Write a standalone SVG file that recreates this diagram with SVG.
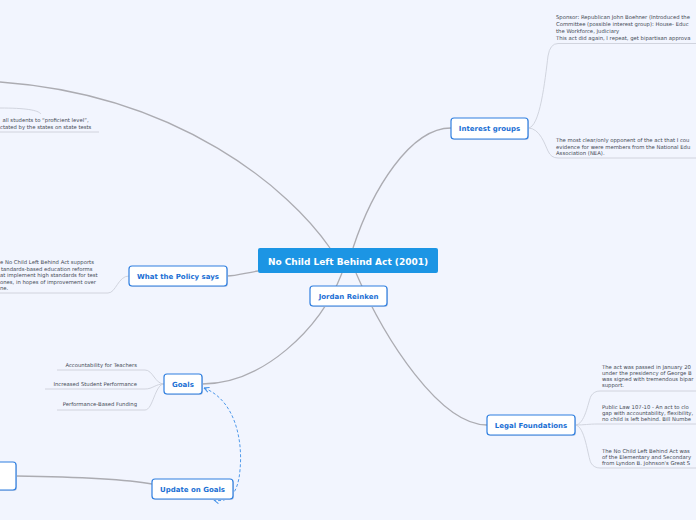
<svg xmlns="http://www.w3.org/2000/svg" width="696" height="520" viewBox="0 0 696 520">
<defs>
<style>
.bg{fill:#f2f5fe}
.main{fill:none;stroke:#acacb2;stroke-width:1.3}
.leaf{fill:none;stroke:#cdd0da;stroke-width:0.9}
.node rect.box{fill:#ffffff;stroke:#2f7fe0;stroke-width:1.2}
.node rect.sh{fill:#c9d3e6}
.lbl{font-family:"DejaVu Sans",Verdana,sans-serif;font-weight:bold;font-size:7px;fill:#1b6fd4;text-anchor:middle}
.txt{font-family:"DejaVu Sans",Verdana,sans-serif;font-size:5.3px;fill:#444a55}
.dash{fill:none;stroke:#3d8ee8;stroke-width:0.9;stroke-dasharray:3 2}
</style>
<marker id="arr" viewBox="0 0 10 10" refX="9" refY="5" markerWidth="7" markerHeight="7" orient="auto-start-reverse">
<path d="M1,1 L9,5 L1,9" fill="none" stroke="#3d8ee8" stroke-width="1.5"/>
</marker>
</defs>
<rect class="bg" x="0" y="0" width="696" height="520"/>

<g id="connectors">
<path class="main" d="M330,248 C290,190 180,95 0,82"/>
<path class="main" d="M353,248 C372,190 410,128 451,128"/>
<path class="main" d="M258,271 C245,273 237,276 227,276"/>
<path class="main" d="M342,273 C320,330 262,384 202,384"/>
<path class="main" d="M356,273 C385,340 440,425 487,425"/>
<path class="main" d="M16,476 C80,477 130,480 152,484"/>
<path class="leaf" d="M0,108 C25,108 38,110 41,114"/>
<path class="leaf" d="M0,132 L99,132"/>
<path class="leaf" d="M0,293 L108,293 C116,293 118,276 129,276"/>
<path class="leaf" d="M528,128 C540,128 545,80 548,56 Q550,43.5 558,43.5 L696,43.5"/>
<path class="leaf" d="M528,128 C540,128 545,145 548,151 Q551,158 558,158 L696,158"/>
<path class="leaf" d="M575,425 C585,425 588,402 591,396 Q594,391 600,391 L696,391"/>
<path class="leaf" d="M575,425 C585,425 588,424 598,424 L696,424"/>
<path class="leaf" d="M575,425 C585,425 588,458 591,463 Q594,468 600,468 L696,468"/>
<path class="leaf" d="M164,384 C155,384 153,370 145,370 L57,370"/>
<path class="leaf" d="M164,384 C155,384 153,389 145,389 L45,389"/>
<path class="leaf" d="M164,384 C155,384 153,410 145,410 L57,410"/>
<path class="dash" d="M204,388 C235,400 243,440 240,470 C238,495 228,503 214,500" marker-start="url(#arr)" marker-end="url(#arr)"/>
</g>

<g id="n-center">
<rect x="258" y="248" width="180" height="25" rx="2" fill="#1c95e4"/>
<text x="348" y="264.5" font-family="'DejaVu Sans',Verdana,sans-serif" font-weight="bold" font-size="9" fill="#ffffff" text-anchor="middle">No Child Left Behind Act (2001)</text>
</g>

<g id="n-jordan" class="node">
<rect class="sh" x="311" y="287" width="77" height="20" rx="3"/>
<rect class="box" x="310" y="286" width="77" height="20" rx="3"/>
<text class="lbl" x="348.5" y="298.5">Jordan Reinken</text>
</g>

<g id="n-interest" class="node">
<rect class="sh" x="452" y="119" width="77" height="21" rx="3"/>
<rect class="box" x="451" y="118" width="77" height="21" rx="3"/>
<text class="lbl" x="489.5" y="131">Interest groups</text>
</g>

<g id="n-legal" class="node">
<rect class="sh" x="488" y="416" width="88" height="20" rx="3"/>
<rect class="box" x="487" y="415" width="88" height="20" rx="3"/>
<text class="lbl" x="531" y="427.5">Legal Foundations</text>
</g>

<g id="n-policy" class="node">
<rect class="sh" x="130" y="267" width="98" height="20" rx="3"/>
<rect class="box" x="129" y="266" width="98" height="20" rx="3"/>
<text class="lbl" x="178" y="278.5">What the Policy says</text>
</g>

<g id="n-goals" class="node">
<rect class="sh" x="165" y="375" width="38" height="20" rx="3"/>
<rect class="box" x="164" y="374" width="38" height="20" rx="3"/>
<text class="lbl" x="183" y="386.5">Goals</text>
</g>

<g id="n-update" class="node">
<rect class="sh" x="153" y="480" width="81" height="20" rx="3"/>
<rect class="box" x="152" y="479" width="81" height="20" rx="3"/>
<text class="lbl" x="192.5" y="491.5">Update on Goals</text>
</g>

<g id="n-left" class="node">
<rect class="sh" x="-9" y="463" width="26" height="28" rx="3"/>
<rect class="box" x="-10" y="462" width="26" height="28" rx="3"/>
</g>

<g id="t-sponsor">
<text class="txt" x="556" y="19">Sponsor: Republican John Boehner (Introduced the</text>
<text class="txt" x="556" y="26">Committee (possible interest group): House- Educ</text>
<text class="txt" x="556" y="33">the Workforce, Judiciary</text>
<text class="txt" x="556" y="40">This act did again, I repeat, get bipartisan approva</text>
</g>
<g id="t-nea">
<text class="txt" x="556" y="142">The most clear/only opponent of the act that I cou</text>
<text class="txt" x="556" y="148.5">evidence for were members from the National Edu</text>
<text class="txt" x="556" y="155">Association (NEA).</text>
</g>
<g id="t-proficient">
<text class="txt" x="2.5" y="122">all students to “proficient level”,</text>
<text class="txt" x="0" y="129">ctated by the states on state tests</text>
</g>
<g id="t-policy">
<text class="txt" x="0" y="264">e No Child Left Behind Act supports</text>
<text class="txt" x="1" y="270.5">tandards-based education reforms</text>
<text class="txt" x="0" y="277">at implement high standards for test</text>
<text class="txt" x="0" y="283.5">ones, in hopes of improvement over</text>
<text class="txt" x="0" y="290">ne.</text>
</g>
<g id="t-goals" text-anchor="end">
<text class="txt" x="137" y="367" text-anchor="end">Accountability for Teachers</text>
<text class="txt" x="137" y="386" text-anchor="end">Increased Student Performance</text>
<text class="txt" x="137" y="405.5" text-anchor="end">Performance-Based Funding</text>
</g>
<g id="t-legal1">
<text class="txt" x="602" y="369">The act was passed in January 20</text>
<text class="txt" x="602" y="375">under the presidency of George B</text>
<text class="txt" x="602" y="381">was signed with tremendous bipar</text>
<text class="txt" x="602" y="387">support.</text>
</g>
<g id="t-legal2">
<text class="txt" x="602" y="409">Public Law 107-10 - An act to clo</text>
<text class="txt" x="602" y="415">gap with accountability, flexibility,</text>
<text class="txt" x="602" y="421">no child is left behind. Bill Numbe</text>
</g>
<g id="t-legal3">
<text class="txt" x="602" y="453">The No Child Left Behind Act was</text>
<text class="txt" x="602" y="459">of the Elementary and Secondary</text>
<text class="txt" x="602" y="465">from Lyndon B. Johnson's Great S</text>
</g>
</svg>
